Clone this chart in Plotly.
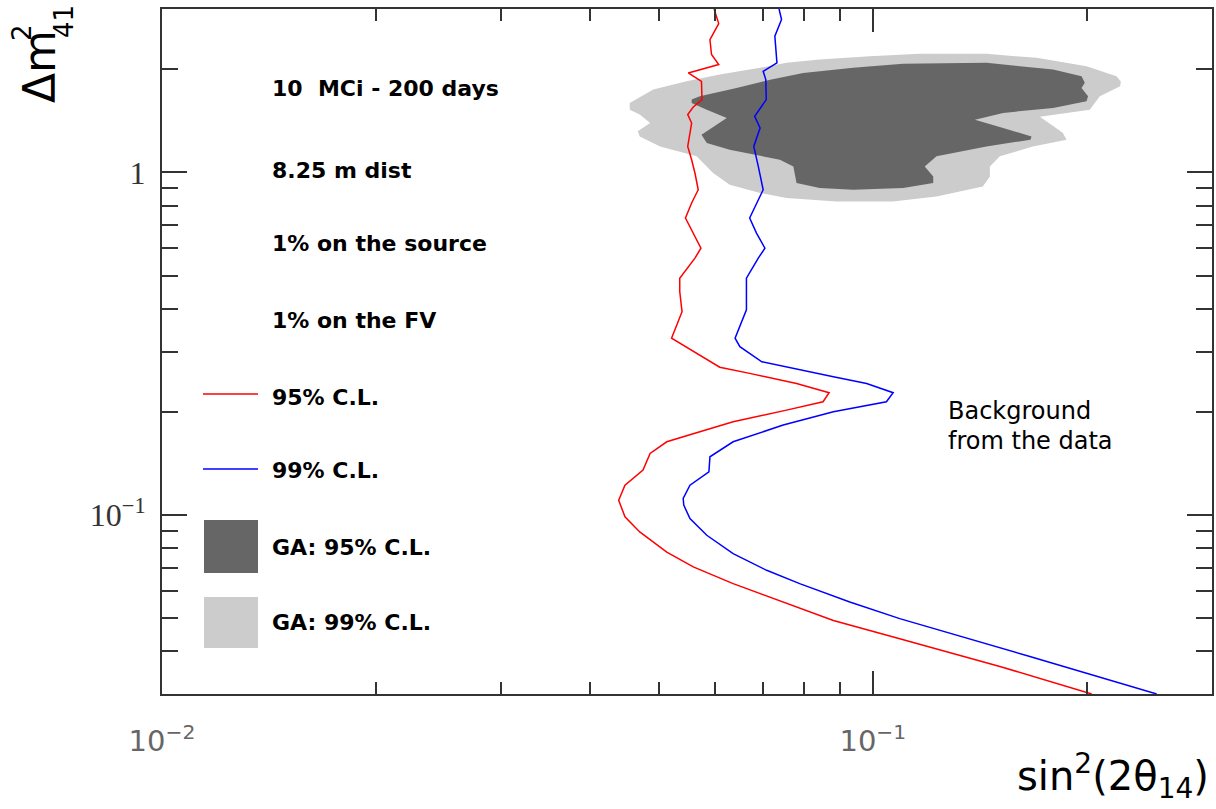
import math
import plotly.graph_objects as go

# Sensitivity curves: sin^2(2theta_14) vs delta m^2_41
red_x = [0.0598, 0.0607, 0.0590, 0.0593, 0.0607, 0.0550, 0.0574, 0.0575, 0.0559, 0.0549,
         0.0556, 0.0553, 0.0549, 0.0556, 0.0562, 0.0568, 0.0556, 0.0545, 0.0559, 0.0573,
         0.0562, 0.0535, 0.0535, 0.0539, 0.0521, 0.0571, 0.0609, 0.0671, 0.0781, 0.0868,
         0.0851, 0.0756, 0.0636, 0.0571, 0.0513, 0.0486, 0.0475, 0.0448, 0.0439, 0.0448,
         0.0470, 0.0513, 0.0559, 0.0636, 0.0748, 0.0880, 0.1091, 0.1509, 0.2032]
red_y = [3.00, 2.72, 2.44, 2.21, 2.065, 1.952, 1.845, 1.632, 1.553, 1.475,
         1.394, 1.304, 1.191, 1.089, 0.996, 0.890, 0.814, 0.736, 0.665, 0.601,
         0.562, 0.491, 0.449, 0.392, 0.328, 0.293, 0.270, 0.259, 0.242, 0.2274,
         0.214, 0.2023, 0.187, 0.1749, 0.1635, 0.1512, 0.1351, 0.1221, 0.1104, 0.0987,
         0.0892, 0.0779, 0.0705, 0.0630, 0.0557, 0.0492, 0.0435, 0.0361, 0.0300]

blue_x = [0.0738, 0.0744, 0.0728, 0.0732, 0.0733, 0.0701, 0.0707, 0.0708, 0.0682, 0.0694,
          0.0680, 0.0690, 0.0701, 0.0671, 0.0686, 0.0705, 0.0690, 0.0664, 0.0664, 0.0640,
          0.0650, 0.0698, 0.0789, 0.0880, 0.0980, 0.1068, 0.1045, 0.0880, 0.0748, 0.0636,
          0.0590, 0.0588, 0.0553, 0.0541, 0.0542, 0.0553, 0.0584, 0.0636, 0.0709, 0.0789,
          0.0928, 0.1091, 0.1663, 0.2508]
blue_y = [3.00, 2.796, 2.50, 2.184, 2.089, 1.974, 1.866, 1.632, 1.458, 1.348,
          1.191, 1.041, 0.890, 0.736, 0.665, 0.601, 0.562, 0.491, 0.397, 0.328,
          0.310, 0.280, 0.265, 0.253, 0.242, 0.2274, 0.214, 0.200, 0.183, 0.1635,
          0.1478, 0.1336, 0.1221, 0.1117, 0.1068, 0.0976, 0.0872, 0.0771, 0.0689, 0.0630,
          0.0557, 0.0498, 0.0386, 0.0300]

# Gallium anomaly allowed regions (closed contours)
ga99_x = [0.0455, 0.0491, 0.0547, 0.0609, 0.0694, 0.0756, 0.0842, 0.0990, 0.1164, 0.1445,
          0.1699, 0.1998, 0.2202, 0.2233, 0.2228, 0.2086, 0.2019, 0.1718, 0.1850, 0.1873,
          0.1679, 0.1509, 0.1461, 0.1461, 0.1428, 0.1229, 0.1067, 0.0889, 0.0756, 0.0694,
          0.0629, 0.0596, 0.0565, 0.0502, 0.0470, 0.0467, 0.0486, 0.0470, 0.0455]
ga99_y = [1.596, 1.745, 1.845, 1.931, 2.020, 2.089, 2.136, 2.184, 2.219, 2.219,
          2.160, 2.042, 1.909, 1.842, 1.785, 1.668, 1.525, 1.455, 1.306, 1.246,
          1.191, 1.114, 1.041, 0.973, 0.910, 0.851, 0.823, 0.823, 0.842, 0.871,
          0.921, 0.996, 1.114, 1.191, 1.274, 1.318, 1.394, 1.475, 1.525]

ga95_x = [0.0556, 0.0571, 0.0643, 0.0717, 0.0798, 0.0938, 0.1103, 0.1297, 0.1445, 0.1610,
          0.1793, 0.1966, 0.1987, 0.1966, 0.2008, 0.1998, 0.1793, 0.1525, 0.1392, 0.1525,
          0.1672, 0.1666, 0.1445, 0.1229, 0.1183, 0.1216, 0.1216, 0.1103, 0.0938, 0.0842,
          0.0781, 0.0773, 0.0740, 0.0629, 0.0584, 0.0574, 0.0609, 0.0623, 0.0584, 0.0556]
ga95_y = [1.632, 1.668, 1.765, 1.866, 1.952, 2.020, 2.075, 2.089, 2.089, 2.042,
          1.997, 1.909, 1.826, 1.765, 1.668, 1.613, 1.543, 1.492, 1.426, 1.348,
          1.274, 1.246, 1.191, 1.114, 1.041, 0.973, 0.931, 0.900, 0.890, 0.900,
          0.931, 1.041, 1.089, 1.165, 1.219, 1.289, 1.394, 1.442, 1.525, 1.596]

# Axis ranges and ticks
x_min, x_max = 0.01, 0.3
y_min, y_max = 0.03, 3.0
x_major = [0.01, 0.1]
x_major_text = ["10<sup>\u22122</sup>", "10<sup>\u22121</sup>"]
x_minor = [0.02, 0.03, 0.04, 0.05, 0.06, 0.07, 0.08, 0.09, 0.2]
y_major = [0.1, 1]
y_major_text = ["10<sup>\u22121</sup>", "1"]
y_minor = [0.04, 0.05, 0.06, 0.07, 0.08, 0.09,
           0.2, 0.3, 0.4, 0.5, 0.6, 0.7, 0.8, 0.9, 2]

info_lines = ["10  MCi - 200 days", "8.25 m dist", "1% on the source", "1% on the FV"]
key_labels = ["95% C.L.", "99% C.L.", "GA: 95% C.L.", "GA: 99% C.L."]

assert len(red_x) == len(red_y)
assert len(blue_x) == len(blue_y)
assert len(ga99_x) == len(ga99_y)
assert len(ga95_x) == len(ga95_y)

AXIS_COLOR = "#333333"
LIGHT = "#cccccc"
DARK = "#666666"

fig = go.Figure()
fig.add_trace(go.Scatter(x=ga99_x, y=ga99_y, mode="lines", fill="toself",
                         fillcolor=LIGHT, line=dict(width=0, color=LIGHT),
                         hoverinfo="skip"))
fig.add_trace(go.Scatter(x=ga95_x, y=ga95_y, mode="lines", fill="toself",
                         fillcolor=DARK, line=dict(width=0, color=DARK),
                         hoverinfo="skip"))
fig.add_trace(go.Scatter(x=red_x, y=red_y, mode="lines",
                         line=dict(color="#ff0000", width=1.5)))
fig.add_trace(go.Scatter(x=blue_x, y=blue_y, mode="lines",
                         line=dict(color="#0000ff", width=1.5)))

W, H = 1216, 809
ML, MR, MT, MB = 162, 4, 9, 115
PW, PH = W - ML - MR, H - MT - MB


def px(xpix):
    return (xpix - ML) / PW


def py(ypix):
    return (H - MB - ypix) / PH


annotations = []
label_font = dict(family="DejaVu Sans", size=22, color="#000000", weight="bold")
info_y = [88, 170, 243, 320]
key_y = [397, 471, 547, 622]
for text, yy in zip(info_lines + key_labels, info_y + key_y):
    annotations.append(dict(x=px(270), y=py(yy), xref="paper", yref="paper",
                            text=text, showarrow=False, xanchor="left",
                            yanchor="middle", font=label_font))

note_font = dict(family="DejaVu Sans", size=24, color="#000000")
annotations.append(dict(x=px(946), y=py(411), xref="paper", yref="paper",
                        text="Background", showarrow=False, xanchor="left",
                        yanchor="middle", font=note_font))
annotations.append(dict(x=px(946), y=py(441), xref="paper", yref="paper",
                        text="from the data", showarrow=False, xanchor="left",
                        yanchor="middle", font=note_font))

# Vertical axis title: Delta m with stacked superscript 2 and subscript 41
title_font = dict(family="DejaVu Sans", size=44, color="#000000")
small_font = dict(family="DejaVu Sans", size=26, color="#000000")
annotations.append(dict(x=px(39), y=py(67), xref="paper", yref="paper",
                        text="\u0394m", showarrow=False, textangle=-90,
                        xanchor="center", yanchor="middle", font=title_font))
annotations.append(dict(x=px(22), y=py(33), xref="paper", yref="paper",
                        text="2", showarrow=False, textangle=-90,
                        xanchor="center", yanchor="middle", font=small_font))
annotations.append(dict(x=px(64), y=py(22), xref="paper", yref="paper",
                        text="41", showarrow=False, textangle=-90,
                        xanchor="center", yanchor="middle", font=small_font))

annotations.append(dict(x=px(1211), y=py(776), xref="paper", yref="paper",
                        text="sin<sup>2</sup>(2\u03b8<sub>14</sub>)", showarrow=False,
                        xanchor="right", yanchor="middle",
                        font=dict(family="DejaVu Sans", size=40, color="#000000")))

shapes = [
    dict(type="line", xref="paper", yref="paper", x0=px(203), x1=px(258),
         y0=py(394), y1=py(394), line=dict(color="#ff0000", width=1.5)),
    dict(type="line", xref="paper", yref="paper", x0=px(203), x1=px(258),
         y0=py(469), y1=py(469), line=dict(color="#0000ff", width=1.5)),
    dict(type="rect", xref="paper", yref="paper", x0=px(204), x1=px(258),
         y0=py(573), y1=py(520), fillcolor=DARK, line=dict(width=0)),
    dict(type="rect", xref="paper", yref="paper", x0=px(204), x1=px(258),
         y0=py(648), y1=py(597), fillcolor=LIGHT, line=dict(width=0)),
]

fig.update_layout(
    width=W, height=H,
    margin=dict(l=ML, r=MR, t=MT, b=MB, pad=0),
    paper_bgcolor="white", plot_bgcolor="white",
    showlegend=False,
    annotations=annotations,
    shapes=shapes,
    xaxis=dict(
        type="log", range=[math.log10(x_min), math.log10(x_max)],
        tickmode="array", tickvals=x_major, ticktext=x_major_text,
        ticks="inside", ticklen=23, tickwidth=2, tickcolor=AXIS_COLOR,
        minor=dict(tickmode="array", tickvals=x_minor, ticks="inside",
                   ticklen=12, tickwidth=2, tickcolor=AXIS_COLOR, showgrid=False),
        showline=True, linecolor=AXIS_COLOR, linewidth=2, mirror="ticks",
        showgrid=False, zeroline=False, automargin=False,
        ticklabelstandoff=20,
        tickfont=dict(family="DejaVu Sans", size=29, color="#666666"),
    ),
    yaxis=dict(
        type="log", range=[math.log10(y_min), math.log10(y_max)],
        tickmode="array", tickvals=y_major, ticktext=y_major_text,
        ticks="inside", ticklen=25, tickwidth=2, tickcolor=AXIS_COLOR,
        minor=dict(tickmode="array", tickvals=y_minor, ticks="inside",
                   ticklen=16, tickwidth=2, tickcolor=AXIS_COLOR, showgrid=False),
        showline=True, linecolor=AXIS_COLOR, linewidth=2, mirror="ticks",
        showgrid=False, zeroline=False, automargin=False,
        ticklabelstandoff=8,
        tickfont=dict(family="Liberation Serif", size=32, color="#333333"),
    ),
)

fig.write_html("out.html")
